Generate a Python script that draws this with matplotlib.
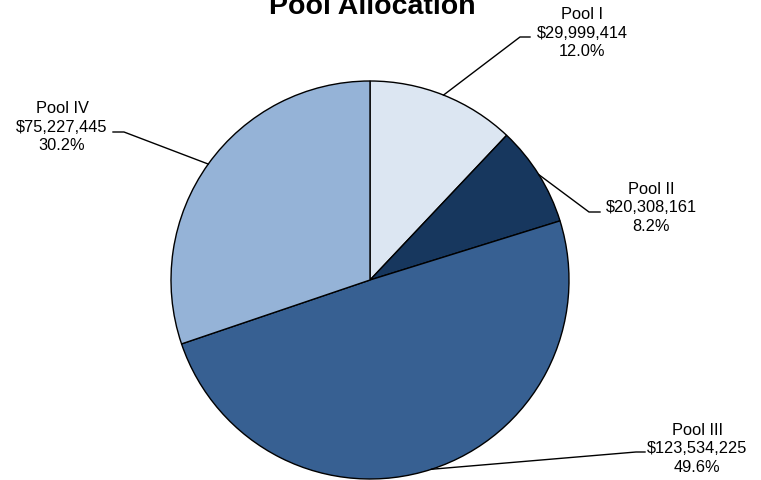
import numpy as np
import matplotlib.pyplot as plt

plt.rcParams['font.family'] = ['Liberation Sans', 'DejaVu Sans']

pools = ["Pool I", "Pool II", "Pool III", "Pool IV"]
amounts = [29999414, 20308161, 123534225, 75227445]
colors = ["#DCE6F2", "#17375E", "#376092", "#95B3D7"]

W, H = 761, 481
fig = plt.figure(figsize=(W / 100, H / 100), dpi=100)
ax = fig.add_axes([0, 0, 1, 1])

cx, cy, r = 370, H - 281, 199
wedges, _ = ax.pie(amounts, colors=colors, startangle=90, counterclock=False,
                   center=(cx, cy), radius=r, frame=True,
                   wedgeprops=dict(edgecolor="black", linewidth=1))
ax.set_xlim(0, W)
ax.set_ylim(0, H)
ax.set_aspect("equal")
ax.axis("off")

total = sum(amounts)
# label text centre, elbow start, elbow end (pixel coords from top-left)
label_pos = [(582, 33), (651, 208), (697, 449), (62, 127)]
elbows = [((520, 38), (530, 38)),
          ((589, 213), (600, 213)),
          ((636, 453), (645, 453)),
          ((124, 133), (113, 133))]

for w, name, amt, (tx, ty), (e1, e2) in zip(wedges, pools, amounts, label_pos, elbows):
    mid = np.deg2rad((w.theta1 + w.theta2) / 2)
    px, py = cx + r * np.cos(mid), cy + r * np.sin(mid)
    ax.plot([px, e1[0], e2[0]], [py, H - e1[1], H - e2[1]], color="black", lw=1)
    pct = 100 * amt / total
    ax.text(tx, H - ty, f"{name}\n${amt:,}\n{pct:.1f}%", ha="center", va="center",
            fontsize=11.8, linespacing=1.32)

ax.text(372, H - 14, "Pool Allocation", ha="center", va="baseline",
        fontsize=20.5, fontweight="bold")

fig.savefig("out.png", dpi=100)
